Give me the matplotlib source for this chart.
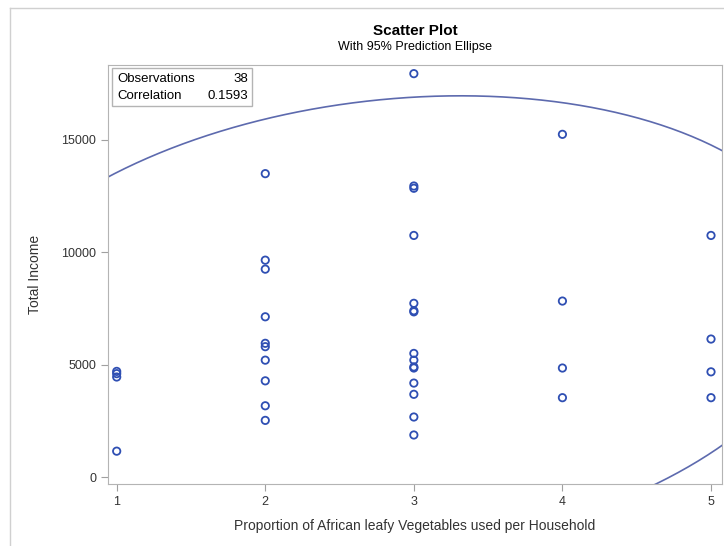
import matplotlib
matplotlib.use("Agg")
import matplotlib.pyplot as plt
from matplotlib.patches import Rectangle
import numpy as np

# data
x_level = [1, 2, 3, 4, 5]
income = {
    1: [4700, 4600, 4450, 1150],
    2: [13500, 9650, 9250, 7130, 5950, 5800, 5200, 4280, 3170, 2520],
    3: [17950, 12950, 12850, 10750, 7730, 7400, 7350, 5500, 5200, 4900,
        4850, 4180, 3680, 2670, 1870],
    4: [15250, 7830, 4850, 3530],
    5: [10750, 6140, 4680, 3530],
}
n_obs = 38
corr_text = "0.1593"

xs = np.concatenate([[k] * len(income[k]) for k in x_level]).astype(float)
ys = np.concatenate([income[k] for k in x_level]).astype(float)

# 95% prediction ellipse (bivariate normal)
n = len(xs)
mu = np.array([xs.mean(), ys.mean()])
cov = np.cov(xs, ys)
f95 = 3.259  # F(0.95; 2, n-2)
c = np.sqrt(2 * (n - 1) * (n + 1) / (n * (n - 2)) * f95)
vals, vecs = np.linalg.eigh(cov)
t = np.linspace(0, 2 * np.pi, 400)
circ = np.vstack([np.cos(t), np.sin(t)])
ell = vecs @ (np.sqrt(vals)[:, None] * circ) * c + mu[:, None]

W, H = 724, 546
fig = plt.figure(figsize=(W / 100, H / 100), dpi=100)
plt.rcParams["font.family"] = ["Liberation Sans", "DejaVu Sans"]

ax = fig.add_axes([108 / W, 1 - 484 / H, 614 / W, 419 / H])
ax.plot(ell[0], ell[1], color="#5d6aae", lw=1.2)
ax.scatter(xs, ys, s=28, facecolors="none", edgecolors="#2f4fb3", linewidths=1.3, zorder=3)

ax.set_xlim(0.9415, 5.074)
ax.set_ylim(-311, 18335)
ax.set_xticks(x_level)
ax.set_yticks([0, 5000, 10000, 15000])
for s in ax.spines.values():
    s.set_color("#b4b4b4")
ax.tick_params(direction="out", length=5, color="#a0a0a0", labelsize=9, labelcolor="#333333")
ax.set_xlabel("Proportion of African leafy Vegetables used per Household", fontsize=10, color="#333333", labelpad=8)
ax.set_ylabel("Total Income", fontsize=10, color="#333333", labelpad=14)

# statistics inset
ax.add_patch(Rectangle((0.0065, 0.902), 0.228, 0.0908, transform=ax.transAxes,
                       fc="white", ec="#b4b4b4", lw=1, zorder=4))
for yy, lab, val in [(0.9666, "Observations", str(n_obs)), (0.926, "Correlation", corr_text)]:
    ax.text(0.0147, yy, lab, transform=ax.transAxes, ha="left", va="center", fontsize=9.5, zorder=5)
    ax.text(0.228, yy, val, transform=ax.transAxes, ha="right", va="center", fontsize=9.5, zorder=5)

fig.text(415 / W, 1 - 31 / H, "Scatter Plot", ha="center", va="center", fontsize=11, fontweight="bold")
fig.text(415 / W, 1 - 47 / H, "With 95% Prediction Ellipse", ha="center", va="center", fontsize=9)

# outer frame lines
fig.add_artist(plt.Line2D([10 / W, 1], [1 - 8 / H, 1 - 8 / H], color="#d0d0d0", lw=1))
fig.add_artist(plt.Line2D([10 / W, 10 / W], [0, 1 - 8 / H], color="#d0d0d0", lw=1))

fig.savefig("out.png", dpi=100)
